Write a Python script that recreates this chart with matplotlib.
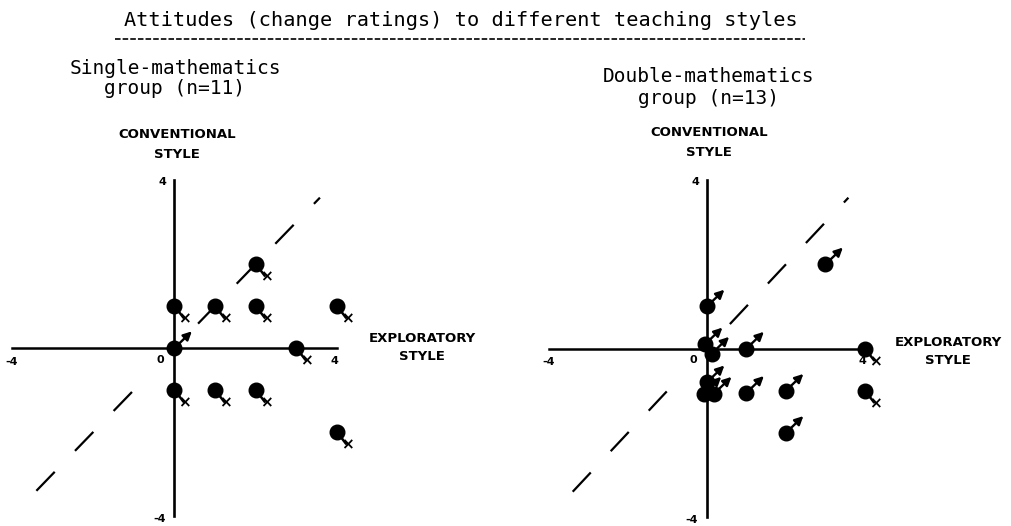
import numpy as np
import matplotlib.pyplot as plt

# change ratings: x = exploratory style, y = conventional style
single_x = [0, 1, 2, 4, 2, 0, 3, 0, 1, 2, 4]
single_y = [1, 1, 1, 1, 2, 0, 0, -1, -1, -1, -2]
single_kind = ["x", "x", "x", "x", "x", "arrow", "x", "x", "x", "x", "x"]

double_x = [3, 0, -0.05, 0.12, 1, 4, 0, -0.08, 0.18, 1, 2, 4, 2]
double_y = [2, 1, 0.1, -0.12, 0, 0, -0.8, -1.07, -1.07, -1.05, -1, -1, -2]
double_kind = ["arrow", "arrow", "arrow", "arrow", "arrow", "x",
               "arrow", "arrow", "arrow", "arrow", "arrow", "x", "arrow"]

title = "Attitudes (change ratings) to different teaching styles"
groups = [["Single-mathematics", "group (n=11)"],
          ["Double-mathematics", "group (n=13)"]]

W, H = 1012, 526
plt.rcParams["lines.scale_dashes"] = False
fig = plt.figure(figsize=(W / 100, H / 100), dpi=100)


def fx(x, y):
    return x / W, 1 - y / H


mono = "DejaVu Sans Mono"
fig.text(*fx(461, 21), title, family=mono, fontsize=14.6, ha="center", va="center")
fig.add_artist(plt.Line2D([115 / W, 805 / W], [1 - 39 / H, 1 - 39 / H],
                          color="k", lw=1.2, ls=(0, (4, 1.5))))


def panel(rect, xs, ys, kinds):
    ax = fig.add_axes(rect)
    ax.set_xlim(-4, 4)
    ax.set_ylim(-4, 4)
    ax.axis("off")
    ax.plot([-4, 4], [0, 0], color="k", lw=1.8, clip_on=False)
    ax.plot([0, 0], [-4, 4], color="k", lw=1.9, clip_on=False)
    # y = x reference line, broken round the origin
    for a, b in [(-3.4, -0.95), (0.58, 3.58)]:
        ax.plot([a, b], [a, b], color="k", lw=1.6, ls=(0, (19, 21)),
                clip_on=False)
    lab = dict(fontsize=8, fontweight="bold", ha="center", va="center",
               textcoords="offset points", annotation_clip=False)
    ax.annotate("4", (0, 4), xytext=(-8.6, -1.4), **lab)
    ax.annotate("-4", (0, -4), xytext=(-10.8, -2.5), **lab)
    ax.annotate("-4", (-4, 0), xytext=(0, -10), **lab)
    ax.annotate("4", (4, 0), xytext=(-1.5, -9), **lab)
    ax.annotate("0", (0, 0), xytext=(-10, -8.6), **lab)
    for x, y, k in zip(xs, ys, kinds):
        if k == "x":
            ax.annotate("", (x, y), xytext=(6.5, -8.5), textcoords="offset points",
                        arrowprops=dict(arrowstyle="-", lw=1.8, color="k",
                                        shrinkA=0, shrinkB=0))
            ax.annotate("\u00d7", (x, y), xytext=(7.5, -9.5), textcoords="offset points",
                        ha="center", va="center", fontsize=11, fontweight="bold")
        else:
            ax.annotate("", (x, y), xytext=(12.5, 12), textcoords="offset points",
                        arrowprops=dict(arrowstyle="<|-,head_length=0.5,head_width=0.25",
                                        lw=1.7, color="k", shrinkA=0, shrinkB=0))
        ax.plot(x, y, "o", color="k", ms=10.5, clip_on=False)
    return ax


panel([12 / W, 10 / H, 325 / W, 336 / H], single_x, single_y, single_kind)
panel([549 / W, 9 / H, 316 / W, 337 / H], double_x, double_y, double_kind)

for cx, y0, lines in zip([175, 709], [68, 77], groups):
    fig.text(*fx(cx, y0), lines[0], family=mono, fontsize=14,
             ha="center", va="center")
    fig.text(*fx(cx, y0 + 21), lines[1], family=mono, fontsize=14,
             ha="center", va="center")

bold = dict(fontsize=9.5, fontweight="bold", ha="center", va="center")
for cx, y0 in zip([177, 709], [135, 133]):
    fig.text(*fx(cx, y0), "CONVENTIONAL", **bold)
    fig.text(*fx(cx, y0 + 19), "STYLE", **bold)
for cx, y0 in zip([422, 948], [338, 342]):
    fig.text(*fx(cx, y0), "EXPLORATORY", **bold)
    fig.text(*fx(cx, y0 + 18), "STYLE", **bold)

fig.savefig("out.png", dpi=100)
